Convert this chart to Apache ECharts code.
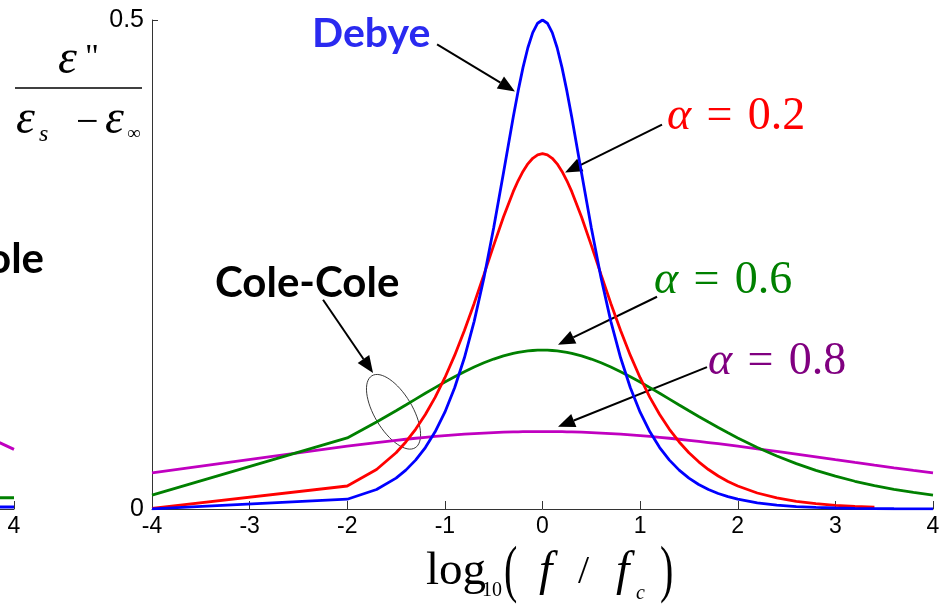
<!DOCTYPE html>
<html><head><meta charset="utf-8">
<script src="https://cdn.jsdelivr.net/npm/echarts@6/dist/echarts.min.js"></script>
<style>html,body{margin:0;padding:0;background:#fff}#c{width:945px;height:605px}</style>
</head><body><div id="c"></div>
<script>
// ---- data ----
const xs = [-4, -2, -1.7, -1.5, -1.4, -1.3, -1.2, -1.1, -1.0, -0.9, -0.8, -0.7, -0.6, -0.5, -0.4,
  -0.3, -0.25, -0.2, -0.15, -0.1, -0.05, 0, 0.05, 0.1, 0.15, 0.2, 0.25, 0.3,
  0.4, 0.5, 0.6, 0.7, 0.8, 0.9, 1.0, 1.1, 1.2, 1.3, 1.4, 1.5, 1.6, 1.7, 1.8, 1.9, 2.0,
  2.2, 2.4, 2.6, 2.8, 3.0, 3.2, 3.4, 3.6, 3.8, 4.0];
const debye = [0.0001, 0.0100, 0.01994, 0.03159, 0.03975, 0.04999, 0.06285, 0.07893, 0.09901, 0.12393, 0.15461, 0.19189, 0.23628, 0.28748, 0.34364,
  0.40057, 0.42724, 0.45129, 0.47159, 0.48703, 0.49670, 0.5, 0.49670, 0.48703, 0.47159, 0.45129, 0.42724, 0.40057,
  0.34364, 0.28748, 0.23628, 0.19189, 0.15461, 0.12393, 0.09901, 0.07893, 0.06285, 0.04999, 0.03975, 0.03159, 0.02510, 0.01994, 0.01585, 0.01259, 0.01000,
  0.00631, 0.00398, 0.00251, 0.00158, 0.00100, 0.00063, 0.00040, 0.00025, 0.00016, 0.0001];
const alpha02 = [0.00060, 0.02351, 0.04035, 0.05754, 0.06854, 0.08147, 0.09658, 0.11410, 0.13422, 0.15703, 0.18247, 0.21022, 0.23962, 0.26957, 0.29852,
  0.32445, 0.33560, 0.34518, 0.35291, 0.35861, 0.36210, 0.36327, 0.36210, 0.35861, 0.35291, 0.34518, 0.33560, 0.32445,
  0.29852, 0.26957, 0.23962, 0.21022, 0.18247, 0.15703, 0.13422, 0.11410, 0.09658, 0.08147, 0.06854, 0.05754, 0.04822, 0.04035, 0.03373, 0.02817, 0.02351,
  0.01635, 0.01135, 0.00787, 0.00545, 0.00378, 0.00261, 0.00181, null, null, null];
const alpha06 = [0.01418, 0.07269, 0.08888, 0.10047, 0.10640, 0.11236, 0.11829, 0.12413, 0.12981, 0.13526, 0.14042, 0.14519, 0.14951, 0.15331, 0.15652,
  0.15908, 0.16010, 0.16094, 0.16160, 0.16208, 0.16236, 0.16246, 0.16236, 0.16208, 0.16160, 0.16094, 0.16010, 0.15908,
  0.15652, 0.15331, 0.14951, 0.14519, 0.14042, 0.13526, 0.12981, 0.12413, 0.11829, 0.11236, 0.10640, 0.10047, 0.09462, 0.08888, 0.08330, 0.07789, 0.07269,
  0.06296, 0.05418, 0.04638, 0.03951, 0.03353, 0.02836, 0.02392, 0.02013, 0.01691, 0.01418];
const alpha08 = [0.03692, 0.06422, 0.06796, 0.07025, 0.07133, 0.07235, 0.07331, 0.07421, 0.07504, 0.07581, 0.07650, 0.07712, 0.07766, 0.07813, 0.07851,
  0.07881, 0.07892, 0.07902, 0.07910, 0.07915, 0.07918, 0.07919, 0.07918, 0.07915, 0.07910, 0.07902, 0.07892, 0.07881,
  0.07851, 0.07813, 0.07766, 0.07712, 0.07650, 0.07581, 0.07504, 0.07421, 0.07331, 0.07235, 0.07133, 0.07025, 0.06913, 0.06796, 0.06675, 0.06550, 0.06422,
  0.06156, 0.05883, 0.05603, 0.05320, 0.05037, 0.04757, 0.04480, 0.04210, 0.03946, 0.03692];
const xTicks = [-4, -3, -2, -1, 0, 1, 2, 3, 4];
const yTicks = ['0', '0.5'];
// clipped neighbour panel on the left edge (only its right end is visible)
const leftX = [3.0, 3.86, 4.0];
const leftPurple = [0.100, 0.0676, 0.0610];
const leftGreen = [0.0125, 0.0116, 0.0114];
const leftBlue = [0.0025, 0.0021, 0.0020];

// ---- annotations (data coordinates) ----
const arrows = [
  {from: [-1.08, 0.475], to: [-0.282, 0.427]},
  {from: [1.224, 0.393], to: [0.231, 0.344]},
  {from: [1.173, 0.217], to: [0.159, 0.168]},
  {from: [1.685, 0.145], to: [0.159, 0.084]},
  {from: [-2.248, 0.214], to: [-1.736, 0.139]}
];
const ellipseCenter = [-1.526, 0.0994];

const chart = echarts.init(document.getElementById('c'), null, {renderer: 'canvas'});
const pair = (X, Y) => X.map((x, i) => [x, Y[i]]);
const SANS = 'Liberation Sans', SERIF = 'Liberation Serif', BOLD = 'Lato';
const axisCol = '#333';

function mkLine(name, data, color, w, gi) {
  return {name, type: 'line', data, xAxisIndex: gi, yAxisIndex: gi, showSymbol: false, symbol: 'none',
    lineStyle: {color, width: w}, silent: true, animation: false, connectNulls: false};
}

chart.setOption({
  animation: false,
  backgroundColor: '#fff',
  grid: [{left: 152, right: 12, top: 20, bottom: 96, outerBoundsMode: 'none', containLabel: false},
         {left: -86, right: 931, top: 20, bottom: 96, outerBoundsMode: 'none', containLabel: false}],
  xAxis: [
    {type: 'value', min: -4, max: 4, interval: 1,
     axisLine: {onZero: false, lineStyle: {color: axisCol, width: 1}},
     axisTick: {inside: true, length: 8, lineStyle: {color: axisCol}},
     axisLabel: {fontSize: 23, color: '#000', fontFamily: SANS, margin: 6,
       formatter: v => String(xTicks[xTicks.indexOf(v)])},
     splitLine: {show: false}},
    {type: 'value', gridIndex: 1, min: 3, max: 4, interval: 1,
     axisLine: {onZero: false, lineStyle: {color: axisCol, width: 1}},
     axisTick: {inside: true, length: 8, lineStyle: {color: axisCol}},
     axisLabel: {fontSize: 23, color: '#000', fontFamily: SANS, margin: 6},
     splitLine: {show: false}}
  ],
  yAxis: [
    {type: 'value', min: 0, max: 0.5, interval: 0.5,
     axisLine: {show: true, onZero: false, lineStyle: {color: axisCol, width: 1}},
     axisTick: {show: true, inside: true, length: 6, lineStyle: {color: axisCol}},
     axisLabel: {fontSize: 25, color: '#000', fontFamily: SANS, margin: 8,
       formatter: v => (v === 0 ? yTicks[0] : yTicks[1])},
     splitLine: {show: false}},
    {type: 'value', gridIndex: 1, min: 0, max: 0.5, show: false}
  ],
  series: [
    mkLine('left-purple', pair(leftX, leftPurple), '#c000c0', 3, 1),
    mkLine('left-green', pair(leftX, leftGreen), '#008000', 3, 1),
    mkLine('left-blue', pair(leftX, leftBlue), '#0000ff', 3, 1),
    mkLine('α=0.8', pair(xs, alpha08), '#c000c0', 2.8, 0),
    mkLine('α=0.6', pair(xs, alpha06), '#008000', 2.8, 0),
    mkLine('α=0.2', pair(xs, alpha02), '#ff0000', 2.8, 0),
    mkLine('Debye', pair(xs, debye), '#0000ff', 2.8, 0)
  ]
});

// ---- graphic overlay ----
const g = [];
function arrow(a0, b0) {
  const a = chart.convertToPixel({gridIndex: 0}, a0);
  const b = chart.convertToPixel({gridIndex: 0}, b0);
  const dx = b[0] - a[0], dy = b[1] - a[1], L = Math.hypot(dx, dy);
  const ux = dx / L, uy = dy / L, hl = 17, hw = 7;
  const bx = b[0] - ux * hl, by = b[1] - uy * hl;
  g.push({type: 'line', shape: {x1: a[0], y1: a[1], x2: bx, y2: by}, style: {stroke: '#000', lineWidth: 2}, silent: true});
  g.push({type: 'polygon', shape: {points: [[b[0], b[1]], [bx - uy * hw, by + ux * hw], [bx + uy * hw, by - ux * hw]]}, style: {fill: '#000'}, silent: true});
}
arrows.forEach(a => arrow(a.from, a.to));
const ec = chart.convertToPixel({gridIndex: 0}, ellipseCenter);
g.push({type: 'ellipse', x: ec[0], y: ec[1], rotation: 0.54, shape: {cx: 0, cy: 0, rx: 19, ry: 42},
  style: {fill: null, stroke: '#222', lineWidth: 0.8}, silent: true});

function txt(x, y, text, size, color, opts, extra) {
  g.push(Object.assign({type: 'text', x, y, silent: true, style: Object.assign({text, fontSize: size, fill: color,
    fontFamily: SERIF, textAlign: 'left', textVerticalAlign: 'middle'}, opts || {})}, extra || {}));
}
// bold labels
txt(312, 34, 'Debye', 41, '#2a2af0', {fontFamily: BOLD, fontWeight: 'bold'});
txt(215, 283, 'Cole-Cole', 42, '#000', {fontFamily: BOLD, fontWeight: 'bold'});
txt(44, 259, 'Cole-Cole', 42, '#000', {fontFamily: BOLD, fontWeight: 'bold', textAlign: 'right'});
// alpha labels
function alphaLabel(x, y, val, color) {
  g.push({type: 'text', x, y, silent: true, style: {
    text: '{a|α}{n|\u200a = \u200a' + val + '}', textAlign: 'left', textVerticalAlign: 'middle',
    rich: {a: {fontFamily: SERIF, fontStyle: 'italic', fontSize: 46, fill: color, color: color},
           n: {fontFamily: SERIF, fontSize: 46, fill: color, color: color}}}});
}
alphaLabel(667, 117, '0.2', '#ff0000');
alphaLabel(654, 281, '0.6', '#008000');
alphaLabel(708, 362, '0.8', '#800080');

// y-axis title (fraction)
txt(58, 60, 'ε', 48, '#000', {fontStyle: 'italic'});
txt(85, 58, '"', 34, '#000');
g.push({type: 'line', shape: {x1: 15, y1: 88, x2: 142, y2: 88}, style: {stroke: '#000', lineWidth: 1.5}, silent: true});
txt(16, 120, 'ε', 48, '#000', {fontStyle: 'italic'});
txt(39, 135, 's', 24, '#000', {fontStyle: 'italic'});
txt(76, 123, '−', 40, '#000');
txt(105, 120, 'ε', 48, '#000', {fontStyle: 'italic'});
txt(127, 134, '∞', 19, '#000');

// x-axis title
txt(426, 572, 'log', 47, '#000');
txt(482, 591, '10', 20, '#000');
txt(504, 573, '(', 40, '#000', null, {scaleY: 1.6});
txt(539, 572, 'f', 48, '#000', {fontStyle: 'italic'});
txt(578, 572, '/', 40, '#000');
txt(616, 572, 'f', 48, '#000', {fontStyle: 'italic'});
txt(636, 594, 'c', 20, '#000', {fontStyle: 'italic'});
txt(660, 573, ')', 40, '#000', null, {scaleY: 1.6});

chart.setOption({graphic: g});
</script></body></html>
